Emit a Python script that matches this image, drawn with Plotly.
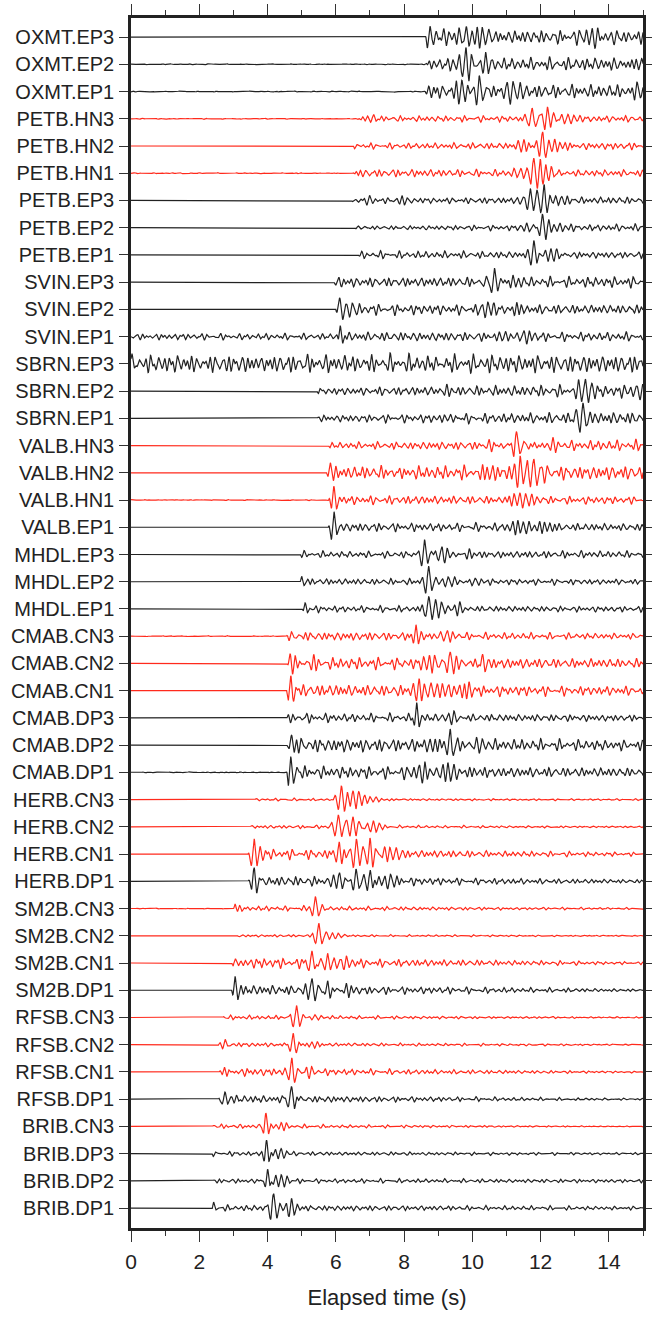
import numpy as np
import plotly.graph_objects as go

# Station / channel names, top to bottom
STATIONS = [
    "OXMT.EP3", "OXMT.EP2", "OXMT.EP1",
    "PETB.HN3", "PETB.HN2", "PETB.HN1",
    "PETB.EP3", "PETB.EP2", "PETB.EP1",
    "SVIN.EP3", "SVIN.EP2", "SVIN.EP1",
    "SBRN.EP3", "SBRN.EP2", "SBRN.EP1",
    "VALB.HN3", "VALB.HN2", "VALB.HN1", "VALB.EP1",
    "MHDL.EP3", "MHDL.EP2", "MHDL.EP1",
    "CMAB.CN3", "CMAB.CN2", "CMAB.CN1", "CMAB.DP3", "CMAB.DP2", "CMAB.DP1",
    "HERB.CN3", "HERB.CN2", "HERB.CN1", "HERB.DP1",
    "SM2B.CN3", "SM2B.CN2", "SM2B.CN1", "SM2B.DP1",
    "RFSB.CN3", "RFSB.CN2", "RFSB.CN1", "RFSB.DP1",
    "BRIB.CN3", "BRIB.DP3", "BRIB.DP2", "BRIB.DP1",
]

# First-motion time of each record (s)
ONSET = [
    8.62, 8.62, 8.62,
    6.60, 6.50, 6.50,
    6.45, 6.55, 6.60,
    5.95, 6.00, 6.05,
    0.00, 5.45, 5.45,
    5.78, 5.73, 5.78, 5.78,
    4.95, 4.95, 5.00,
    4.56, 4.56, 4.56, 4.56, 4.56, 4.56,
    3.55, 3.48, 3.43, 3.43,
    3.00, 3.00, 2.95, 2.95,
    2.60, 2.51, 2.56, 2.56,
    2.36, 2.36, 2.36, 2.36,
]

# Background noise level before the onset (trace-spacing units)
PRE_NOISE = [
    0.0, 0.01, 0.01,
    0.01, 0.0, 0.01,
    0.0, 0.0, 0.0,
    0.0, 0.0, 0.07,
    0.20, 0.0, 0.0,
    0.0, 0.0, 0.01, 0.0,
    0.0, 0.0, 0.0,
    0.01, 0.0, 0.0, 0.0, 0.0, 0.01,
    0.0, 0.0, 0.0, 0.0,
    0.01, 0.0, 0.0, 0.0,
    0.0, 0.0, 0.0, 0.0,
    0.0, 0.0, 0.0, 0.0,
]

# Coda level just after the onset and at the end of the window
CODA_EARLY = [
    0.16, 0.13, 0.15,
    0.06, 0.06, 0.09,
    0.06, 0.04, 0.08,
    0.10, 0.12, 0.10,
    0.20, 0.08, 0.07,
    0.07, 0.15, 0.10, 0.10,
    0.07, 0.07, 0.07,
    0.10, 0.14, 0.14, 0.10, 0.16, 0.14,
    0.03, 0.04, 0.12, 0.12,
    0.06, 0.03, 0.12, 0.12,
    0.05, 0.05, 0.09, 0.09,
    0.05, 0.05, 0.05, 0.07,
]
CODA_LATE = [
    0.14, 0.15, 0.15,
    0.07, 0.08, 0.07,
    0.08, 0.08, 0.07,
    0.12, 0.10, 0.10,
    0.20, 0.14, 0.14,
    0.12, 0.16, 0.08, 0.08,
    0.08, 0.06, 0.06,
    0.06, 0.10, 0.10, 0.07, 0.11, 0.10,
    0.02, 0.02, 0.04, 0.04,
    0.02, 0.015, 0.03, 0.03,
    0.015, 0.015, 0.02, 0.02,
    0.01, 0.025, 0.04, 0.04,
]

# Wave packets per record: (centre time s, amplitude, half-width s, frequency Hz)
PACKETS = [
    [(8.75, 0.42, 0.15, 5.5), (9.3, 0.22, 0.3, 6), (9.82, 0.48, 0.22, 5), (10.3, 0.25, 0.35, 6), (13.5, 0.2, 0.5, 6), (14.4, 0.2, 0.4, 6)],
    [(9.8, 0.48, 0.25, 5.5), (10.4, 0.22, 0.3, 6), (14.8, 0.3, 0.2, 6)],
    [(8.7, 0.2, 0.15, 6), (9.7, 0.3, 0.3, 6), (10.2, 0.45, 0.22, 5), (11.2, 0.32, 0.25, 5), (14.85, 0.33, 0.2, 6)],
    [(7.1, 0.1, 0.15, 6), (11.75, 0.45, 0.22, 5), (12.2, 0.35, 0.28, 5.5), (12.8, 0.15, 0.3, 6)],
    [(11.5, 0.2, 0.2, 6), (12.05, 0.45, 0.18, 5), (12.4, 0.25, 0.3, 6)],
    [(11.4, 0.15, 0.2, 6), (11.8, 0.48, 0.18, 5), (12.15, 0.3, 0.3, 6)],
    [(7.0, 0.14, 0.15, 6), (7.95, 0.14, 0.2, 6), (11.7, 0.35, 0.22, 5), (12.1, 0.48, 0.2, 5), (12.6, 0.15, 0.3, 6)],
    [(11.6, 0.18, 0.2, 6), (12.05, 0.45, 0.18, 5), (12.4, 0.22, 0.3, 6)],
    [(11.8, 0.48, 0.15, 5), (12.3, 0.3, 0.3, 5.5)],
    [(6.1, 0.12, 0.15, 6), (10.65, 0.48, 0.2, 5), (11.2, 0.15, 0.3, 6)],
    [(6.1, 0.48, 0.15, 5), (6.5, 0.15, 0.2, 6), (10.45, 0.25, 0.2, 6), (11.3, 0.22, 0.2, 6)],
    [(6.12, 0.38, 0.1, 6), (10.8, 0.3, 0.2, 6), (11.5, 0.15, 0.3, 6)],
    [(1.8, 0.15, 0.2, 5), (3.7, 0.2, 0.1, 5), (5.2, 0.15, 0.1, 6), (6.9, 0.2, 0.1, 5), (9.0, 0.15, 0.2, 5)],
    [(9.25, 0.38, 0.14, 6), (13.3, 0.45, 0.22, 5), (14.8, 0.2, 0.2, 6)],
    [(9.35, 0.3, 0.16, 6), (13.25, 0.5, 0.22, 5)],
    [(10.5, 0.15, 0.2, 6), (11.3, 0.5, 0.2, 5), (12.2, 0.15, 0.4, 6)],
    [(5.85, 0.37, 0.12, 5), (7.8, 0.22, 0.2, 5), (10.6, 0.3, 0.4, 6), (11.4, 0.45, 0.35, 5.5), (11.8, 0.45, 0.25, 5)],
    [(5.95, 0.5, 0.13, 5.5), (11.4, 0.3, 0.35, 6)],
    [(5.95, 0.48, 0.13, 5.5), (11.5, 0.3, 0.45, 6), (12.1, 0.25, 0.3, 6)],
    [(8.6, 0.48, 0.2, 5), (9.1, 0.3, 0.28, 5.5), (9.9, 0.2, 0.2, 6)],
    [(5.0, 0.18, 0.1, 6), (8.72, 0.48, 0.16, 5), (9.3, 0.15, 0.25, 6), (10.1, 0.15, 0.2, 6)],
    [(5.1, 0.22, 0.1, 6), (8.72, 0.5, 0.18, 5), (9.1, 0.3, 0.25, 5.5), (9.64, 0.3, 0.16, 6)],
    [(8.35, 0.42, 0.1, 6), (9.25, 0.18, 0.2, 6)],
    [(4.66, 0.37, 0.1, 6), (5.5, 0.15, 0.2, 6), (8.9, 0.25, 0.35, 6), (9.35, 0.48, 0.16, 5), (10.3, 0.28, 0.12, 6)],
    [(4.68, 0.45, 0.15, 6), (8.6, 0.3, 0.4, 6), (9.3, 0.33, 0.4, 6), (9.9, 0.3, 0.2, 6)],
    [(8.37, 0.45, 0.1, 6), (9.3, 0.18, 0.2, 6)],
    [(4.7, 0.37, 0.1, 6), (8.9, 0.22, 0.35, 6), (9.35, 0.45, 0.16, 5), (10.3, 0.26, 0.12, 6)],
    [(4.68, 0.45, 0.15, 6), (8.6, 0.3, 0.4, 6), (9.3, 0.33, 0.4, 6), (9.9, 0.3, 0.2, 6)],
    [(6.17, 0.48, 0.18, 5), (6.5, 0.3, 0.28, 5.5), (7.0, 0.12, 0.4, 6)],
    [(6.07, 0.5, 0.2, 5), (6.5, 0.35, 0.3, 5.5), (7.1, 0.2, 0.3, 6)],
    [(3.6, 0.45, 0.2, 5.5), (6.1, 0.4, 0.14, 6), (6.6, 0.45, 0.2, 5), (7.0, 0.45, 0.16, 5.5), (7.6, 0.25, 0.3, 6)],
    [(3.6, 0.45, 0.2, 5.5), (6.1, 0.4, 0.14, 6), (6.6, 0.45, 0.2, 5), (7.0, 0.4, 0.16, 5.5), (7.6, 0.25, 0.3, 6)],
    [(3.05, 0.18, 0.08, 6), (5.4, 0.45, 0.14, 5)],
    [(5.5, 0.45, 0.14, 5), (5.9, 0.12, 0.25, 6)],
    [(3.05, 0.38, 0.12, 6), (5.3, 0.45, 0.16, 5), (5.75, 0.35, 0.16, 5.5), (6.3, 0.25, 0.2, 6)],
    [(3.05, 0.4, 0.12, 6), (5.3, 0.45, 0.16, 5), (5.75, 0.33, 0.16, 5.5), (6.3, 0.23, 0.2, 6)],
    [(4.85, 0.48, 0.16, 5), (5.4, 0.12, 0.15, 6)],
    [(2.76, 0.15, 0.08, 6), (4.75, 0.45, 0.14, 5), (5.3, 0.12, 0.2, 6)],
    [(2.75, 0.2, 0.16, 6), (4.7, 0.5, 0.16, 5), (5.3, 0.12, 0.2, 6)],
    [(2.75, 0.2, 0.16, 6), (4.7, 0.45, 0.16, 5)],
    [(3.95, 0.48, 0.1, 6), (4.4, 0.15, 0.25, 6)],
    [(3.97, 0.48, 0.1, 6), (4.4, 0.15, 0.25, 6)],
    [(4.0, 0.48, 0.1, 6), (4.4, 0.3, 0.25, 6)],
    [(2.42, 0.22, 0.08, 6), (4.18, 0.45, 0.16, 5), (4.7, 0.25, 0.25, 6)],
]

T_END = 15.0
DT = 0.01
t = np.arange(0.0, T_END + DT / 2, DT)


def wiggle(t, k):
    """Broadband-looking oscillation built from a few beating tones."""
    g = 0.6180339887
    ph = [2 * np.pi * (((k + 1) * g * m) % 1.0) for m in (1, 2, 3, 4)]
    return (np.sin(2 * np.pi * 5.3 * t + ph[0])
            + 0.8 * np.sin(2 * np.pi * 7.4 * t + ph[1])
            + 0.6 * np.sin(2 * np.pi * 9.1 * t + ph[2])
            + 0.5 * np.sin(2 * np.pi * 3.7 * t + ph[3])) / 1.4


def seismogram(k):
    t0 = ONSET[k]
    on = np.clip((t - t0) / 0.05, 0.0, 1.0)
    frac = np.clip((t - t0) / max(T_END - t0, 1e-6), 0.0, 1.0)
    coda = CODA_EARLY[k] + (CODA_LATE[k] - CODA_EARLY[k]) * frac
    w = wiggle(t, k)
    s = PRE_NOISE[k] * w * (1 - on) + coda * w * on
    for tc, amp, hw, f in PACKETS[k]:
        s += on * amp * np.exp(-((t - tc) / hw) ** 2) * np.cos(2 * np.pi * f * (t - tc))
    return s


def trace_colour(name):
    return "#ff2a1c" if name.split(".")[1][:2] in ("HN", "CN") else "#222222"


fig = go.Figure()
for k, name in enumerate(STATIONS):
    fig.add_trace(go.Scatter(
        x=t, y=k - seismogram(k), mode="lines",
        line=dict(color=trace_colour(name), width=1.2),
        name=name, showlegend=False, hoverinfo="skip",
    ))

n = len(STATIONS)
fig.update_layout(
    width=652, height=1317,
    margin=dict(l=131, r=9, t=18, b=89, autoexpand=False),
    paper_bgcolor="white", plot_bgcolor="white",
    font=dict(family="Liberation Sans, Arial, sans-serif", color="#222222"),
)
fig.update_xaxes(
    range=[0, 15], tickvals=list(range(0, 15, 2)),
    ticks="outside", ticklen=11, tickwidth=1, tickcolor="#333333",
    minor=dict(dtick=1, tick0=0, ticks="outside", ticklen=5, tickcolor="#333333"),
    showline=True, linewidth=2.5, linecolor="#222222", mirror="ticks",
    showgrid=False, zeroline=False, automargin=False,
    tickfont=dict(size=21), ticklabelstandoff=2,
    title=dict(text="Elapsed time (s)", font=dict(size=22), standoff=18),
)
fig.update_yaxes(
    range=[n - 1 + 0.73, -0.70],
    tickvals=list(range(n)), ticktext=STATIONS,
    ticks="outside", ticklen=9, tickwidth=1, tickcolor="#333333",
    showline=True, linewidth=2.5, linecolor="#222222", mirror="ticks",
    showgrid=False, zeroline=False, automargin=False,
    tickfont=dict(size=20), ticklabelstandoff=1,
)

fig.write_html("out.html")
